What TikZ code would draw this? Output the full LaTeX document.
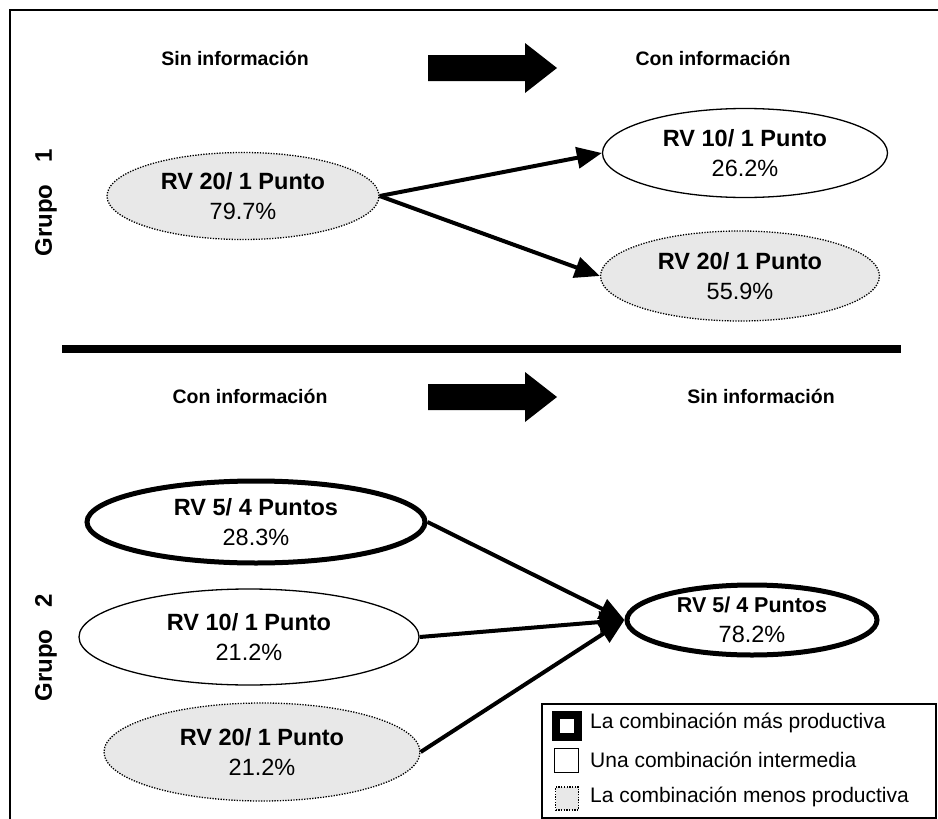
\documentclass[tikz,border=0pt]{standalone}
\usepackage{fontspec}
\setmainfont{Liberation Sans}
\usetikzlibrary{shapes.geometric,arrows.meta}
\definecolor{lgray}{RGB}{232,232,232}
\begin{document}
\begin{tikzpicture}[x=1pt,y=-1pt,
  ell/.style={ellipse,inner sep=0pt,align=center,font=\fontsize{23.5}{30}\selectfont},
  midell/.style={ell,draw,line width=1.3pt,fill=white},
  lowell/.style={ell,draw,fill=lgray,line width=1.3pt,dash pattern=on 1.3pt off 1.4pt},
  bestell/.style={ell,draw,line width=5pt,fill=white},
  hdr/.style={font=\bfseries\fontsize{19.5}{22}\selectfont,anchor=base,inner sep=0pt},
  grp/.style={font=\bfseries\fontsize{24}{26}\selectfont,rotate=90,inner sep=0pt},
  conn/.style={line width=4pt,-{Triangle[length=25pt,width=21pt]}},
  leg/.style={font=\fontsize{21}{24}\selectfont,anchor=base west,inner sep=0pt},
]
\path[use as bounding box] (0,0) rectangle (938,819);
% frame
\draw[line width=2pt] (10,819) -- (10,10) -- (938,10);
% separator
\draw[line width=8pt] (62,348.5) -- (901,348.5);

% ---------- Grupo 1 ----------
\node[grp] (g1) at (46,203) {Grupo\hspace{0.9em}1};
\node[hdr] (h1l) at (235,65) {Sin información};
\node[hdr] (h1r) at (713,65) {Con información};
\fill (428,55) -- (525,55) -- (525,43) -- (557,68) -- (525,93) -- (525,81) -- (428,81) -- cycle;

\node[lowell,minimum width=272pt,minimum height=87pt] (a1) at (243,196)
  {\textbf{RV 20/ 1 Punto}\\79.7\%};
\node[midell,minimum width=285pt,minimum height=89pt] (b1) at (745,153)
  {\textbf{RV 10/ 1 Punto}\\26.2\%};
\node[lowell,minimum width=279pt,minimum height=90pt] (c1) at (740,276)
  {\textbf{RV 20/ 1 Punto}\\55.9\%};
\draw[conn] (a1.east) -- (b1.west);
\draw[conn] (a1.east) -- (c1.west);

% ---------- Grupo 2 ----------
\node[grp] (g2) at (46,648) {Grupo\hspace{0.9em}2};
\node[hdr] (h2l) at (250,403) {Con información};
\node[hdr] (h2r) at (761,403) {Sin información};
\fill (428,384) -- (525,384) -- (525,372) -- (557,397) -- (525,422) -- (525,410) -- (428,410) -- cycle;

\node[bestell,minimum width=338pt,minimum height=82pt] (a2) at (256,522)
  {\textbf{RV 5/ 4 Puntos}\\28.3\%};
\node[midell,minimum width=340pt,minimum height=96pt] (b2) at (249,637)
  {\textbf{RV 10/ 1 Punto}\\21.2\%};
\node[lowell,minimum width=316pt,minimum height=98pt] (c2) at (262,752)
  {\textbf{RV 20/ 1 Punto}\\21.2\%};
\node[bestell,minimum width=250pt,minimum height=70pt] (r2) at (752,620)
  {{\fontsize{21.5}{30}\selectfont\textbf{RV 5/ 4 Puntos}}\\78.2\%};
\draw[conn] (a2.east) -- (r2.west);
\draw[conn] (b2.east) -- (r2.west);
\draw[conn] (c2.east) -- (r2.west);

% ---------- Legend ----------
\node[draw,line width=1.5pt,minimum width=394pt,minimum height=114pt,anchor=north west,inner sep=0pt] (legend) at (541,703) {};
\node[draw,line width=8pt,minimum size=22pt,inner sep=0pt] (s1) at (567,725.5) {};
\node[draw,line width=1.3pt,minimum size=24pt,inner sep=0pt] (s2) at (566.5,760.5) {};
\node[draw,fill=lgray,line width=1.3pt,dash pattern=on 1.3pt off 1.4pt,minimum size=23pt,inner sep=0pt] (s3) at (567,798.5) {};
\node[leg] (t1) at (590,728) {La combinación más productiva};
\node[leg] (t2) at (590,767) {Una combinación intermedia};
\node[leg] (t3) at (590,802) {La combinación menos productiva};
\end{tikzpicture}
\end{document}
